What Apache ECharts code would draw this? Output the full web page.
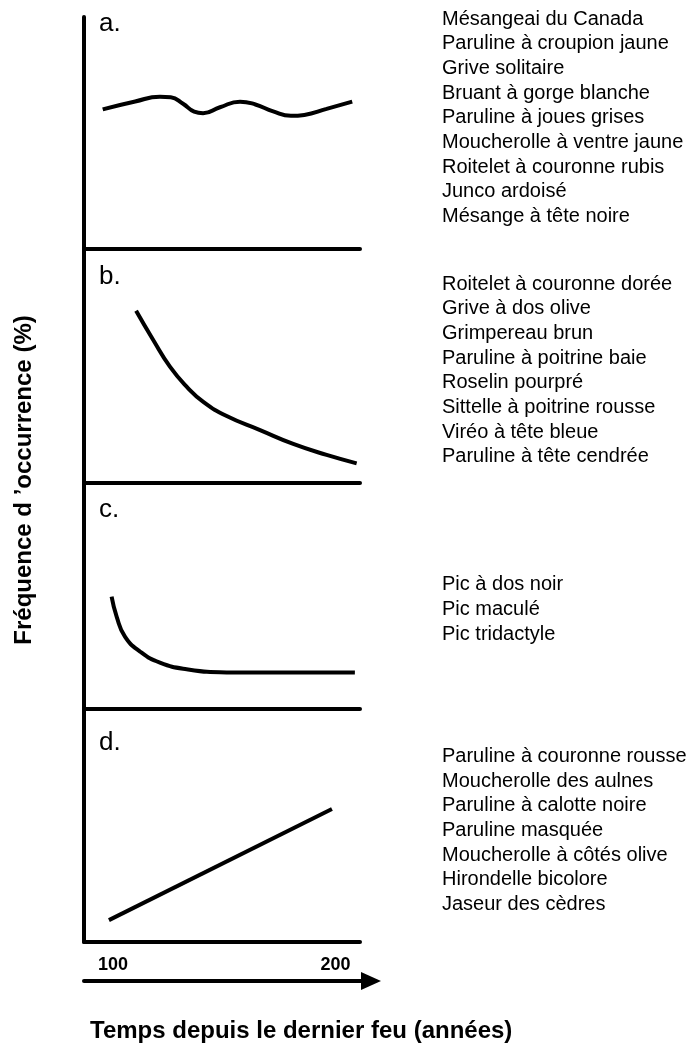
<!DOCTYPE html>
<html>
<head>
<meta charset="utf-8">
<script src="https://cdn.jsdelivr.net/npm/echarts@6/dist/echarts.min.js"></script>
<style>
html,body{margin:0;padding:0;background:#fff;}
#chart{width:691px;height:1047px;}
</style>
</head>
<body>
<div id="chart"></div>
<script>
// ---- Data ----
const panelLabels = ['a.', 'b.', 'c.', 'd.'];

const yearsA = [95.4, 110.0, 121.1, 126.0, 131.5, 136.5, 140.5, 148.1, 157.1, 164.0, 172.0, 180.0, 186.0, 196.0, 207.5];
const freqA  = [60.2, 63.6, 65.6, 65.4, 62.6, 59.2, 58.5, 61.1, 63.5, 62.3, 59.3, 57.4, 57.8, 60.4, 63.5];

const yearsB = [110.4, 118.1, 125.6, 133.1, 140.6, 151.1, 166.1, 181.0, 196.0, 209.5];
const freqB  = [73.6, 61.1, 49.7, 41.2, 34.7, 28.6, 22.6, 16.7, 12.0, 8.4];

const yearsC = [99.4, 101.7, 105.4, 112.2, 121.1, 133.1, 151.1, 173.6, 196.0, 208.7];
const freqC  = [49.7, 40.8, 32.0, 25.4, 20.5, 17.6, 16.2, 16.1, 16.2, 16.1];

const yearsD = [98.2, 198.4];
const freqD  = [9.4, 57.1];

const xTickValues = [100, 200];

const speciesA = ['Mésangeai du Canada', 'Paruline à croupion jaune', 'Grive solitaire', 'Bruant à gorge blanche',
  'Paruline à joues grises', 'Moucherolle à ventre jaune', 'Roitelet à couronne rubis', 'Junco ardoisé', 'Mésange à tête noire'];
const speciesB = ['Roitelet à couronne dorée', 'Grive à dos olive', 'Grimpereau brun', 'Paruline à poitrine baie',
  'Roselin pourpré', 'Sittelle à poitrine rousse', 'Viréo à tête bleue', 'Paruline à tête cendrée'];
const speciesC = ['Pic à dos noir', 'Pic maculé', 'Pic tridactyle'];
const speciesD = ['Paruline à couronne rousse', 'Moucherolle des aulnes', 'Paruline à calotte noire', 'Paruline masquée',
  'Moucherolle à côtés olive', 'Hirondelle bicolore', 'Jaseur des cèdres'];

const yAxisTitle = 'Fréquence d ’occurrence (%)';
const xAxisTitle = 'Temps depuis le dernier feu (années)';

// ---- Layout ----
const FONT = '"Liberation Sans", Arial, Helvetica, sans-serif';
const plotLeft = 84, plotWidth = 276;
const xMin = 87, xMax = 211;
const panelTops = [17, 249, 483, 709];
const panelHeights = [232, 234, 226, 233];
const labelMidY = [24, 277, 510, 743];
const listFirstMid = [19, 284, 584.7, 756.3];
const listStep = 24.7;
const listX = 442;

const seriesSets = [[yearsA, freqA], [yearsB, freqB], [yearsC, freqC], [yearsD, freqD]];
const speciesSets = [speciesA, speciesB, speciesC, speciesD];

const grids = [], xAxes = [], yAxes = [], series = [], graphics = [];

for (let i = 0; i < 4; i++) {
  grids.push({ left: plotLeft, top: panelTops[i], width: plotWidth, height: panelHeights[i], containLabel: false });
  xAxes.push({
    type: 'value', gridIndex: i, min: xMin, max: xMax,
    axisLine: { show: true, onZero: false, lineStyle: { color: '#000', width: 4 } },
    axisTick: { show: false }, axisLabel: { show: false }, splitLine: { show: false }
  });
  yAxes.push({
    type: 'value', gridIndex: i, min: 0, max: 100,
    axisLine: { show: true, onZero: false, lineStyle: { color: '#000', width: 4 } },
    axisTick: { show: false }, axisLabel: { show: false }, splitLine: { show: false }
  });
  const [xs, ys] = seriesSets[i];
  series.push({
    type: 'line', xAxisIndex: i, yAxisIndex: i,
    data: xs.map((x, k) => [x, ys[k]]),
    smooth: i === 3 ? false : 0.5,
    symbol: 'none', showSymbol: false,
    lineStyle: { color: '#000', width: 4 },
    silent: true
  });
  graphics.push({
    type: 'text', x: 99, y: labelMidY[i],
    style: { text: panelLabels[i], font: '26px ' + FONT, fill: '#000', align: 'left', verticalAlign: 'middle' }
  });
  speciesSets[i].forEach((name, k) => {
    graphics.push({
      type: 'text', x: listX, y: listFirstMid[i] + k * listStep,
      style: { text: name, font: '20px ' + FONT, fill: '#000', align: 'left', verticalAlign: 'middle' }
    });
  });
}

// Arrow time axis
grids.push({ left: plotLeft, top: 960, width: 287, height: 21 });
xAxes.push({
  type: 'value', gridIndex: 4, min: 87, max: 216,
  axisLine: { show: true, onZero: false, symbol: ['none', 'triangle'], symbolSize: [18, 20], lineStyle: { color: '#000', width: 4 } },
  axisTick: { show: false },
  axisLabel: { show: true, inside: true, margin: 7, customValues: xTickValues, color: '#000', fontSize: 18, fontWeight: 'bold', fontFamily: FONT },
  splitLine: { show: false }
});
yAxes.push({ type: 'value', gridIndex: 4, show: false, min: 0, max: 1 });

graphics.push({
  type: 'text', x: 24, y: 480, rotation: Math.PI / 2,
  style: { text: yAxisTitle, font: 'bold 24px ' + FONT, fill: '#000', align: 'center', verticalAlign: 'middle' }
});
graphics.push({
  type: 'text', x: 90, y: 1031.6,
  style: { text: xAxisTitle, font: 'bold 24px ' + FONT, fill: '#000', align: 'left', verticalAlign: 'middle' }
});

const chart = echarts.init(document.getElementById('chart'), null, { renderer: 'canvas' });
chart.setOption({
  animation: false,
  backgroundColor: '#fff',
  grid: grids,
  xAxis: xAxes,
  yAxis: yAxes,
  series: series,
  graphic: graphics
});
</script>
</body>
</html>
